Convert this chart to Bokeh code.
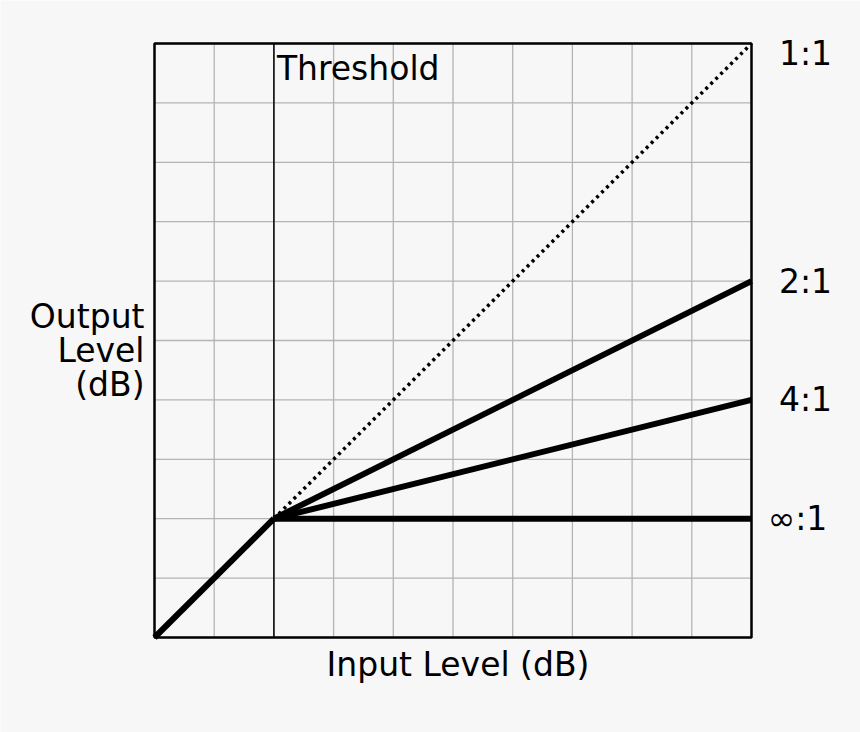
from bokeh.plotting import figure
from bokeh.models import Range1d
from bokeh.core.properties import value
from bokeh.embed import file_html
from bokeh.resources import INLINE

# ---- data ----
knee_x = [0, 2]
knee_y = [0, 2]
ratio_x = [2, 10]
ratio_names = ["1:1", "2:1", "4:1", "∞:1"]
ratio_y = {
    "1:1": [2, 10],
    "2:1": [2, 6],
    "4:1": [2, 4],
    "∞:1": [2, 2],
}
threshold = 2
grid_ticks = [0, 1, 2, 3, 4, 5, 6, 7, 8, 9, 10]
x_label = "Input Level (dB)"
y_label_lines = ["Output", "Level", "(dB)"]
threshold_label = "Threshold"

BG = "#f7f7f7"
FONT = value("DejaVu Sans")
FS = value("33px")

W, H = 860, 732
# plot box placement in pixels
BOX_L, BOX_R, BOX_T, BOX_B = 154, 751, 43, 637
lo, hi = grid_ticks[0], grid_ticks[-1]
ux = (BOX_R - BOX_L) / (hi - lo)
uy = (BOX_B - BOX_T) / (hi - lo)

p = figure(width=W, height=H, output_backend="svg", toolbar_location=None,
           x_range=Range1d(lo - BOX_L / ux, hi + (W - BOX_R) / ux),
           y_range=Range1d(lo - (H - BOX_B) / uy, hi + BOX_T / uy),
           min_border=0)
p.background_fill_color = BG
p.border_fill_color = BG
p.outline_line_color = None
p.axis.visible = False
p.grid.visible = False

# grid
p.segment(x0=grid_ticks, y0=[lo] * len(grid_ticks), x1=grid_ticks, y1=[hi] * len(grid_ticks),
          line_color="#b4b4b4", line_width=1.3)
p.segment(x0=[lo] * len(grid_ticks), y0=grid_ticks, x1=[hi] * len(grid_ticks), y1=grid_ticks,
          line_color="#b4b4b4", line_width=1.3)

# threshold line
p.segment(x0=[threshold], y0=[lo], x1=[threshold], y1=[hi], line_color="black", line_width=1.5)

# box outline
p.quad(left=[lo], right=[hi], bottom=[lo], top=[hi], fill_color=None,
       line_color="black", line_width=2.5)

# curves
p.line(ratio_x, ratio_y["1:1"], line_color="black", line_width=3.5, line_dash="3 4")
for name in ratio_names[1:]:
    p.line(ratio_x, ratio_y[name], line_color="black", line_width=6)
p.line(knee_x, knee_y, line_color="black", line_width=6)

# ratio labels
for name in ratio_names:
    yoff = 10 if name == "1:1" else 0
    xoff = 46 if name == "∞:1" else 54
    p.text(x=[ratio_x[-1]], y=[ratio_y[name][-1]], text=[name],
           x_offset=xoff, y_offset=yoff,
           text_align="center", text_baseline="middle",
           text_font=FONT, text_font_size=FS, text_color="black")

# threshold label
p.text(x=[threshold], y=[hi], text=[threshold_label], x_offset=3, y_offset=5,
       text_align="left", text_baseline="top",
       text_font=FONT, text_font_size=FS, text_color="black")

# axis labels
p.text(x=[(lo + hi) / 2], y=[lo], text=[x_label], x_offset=5, y_offset=27,
       text_align="center", text_baseline="middle",
       text_font=FONT, text_font_size=FS, text_color="black")
for i, line in enumerate(y_label_lines):
    p.text(x=[lo], y=[(lo + hi) / 2], text=[line], x_offset=-10, y_offset=-24 + 34 * i,
           text_align="right", text_baseline="middle",
           text_font=FONT, text_font_size=FS, text_color="black")

open("out.html", "w").write(file_html(p, INLINE))
